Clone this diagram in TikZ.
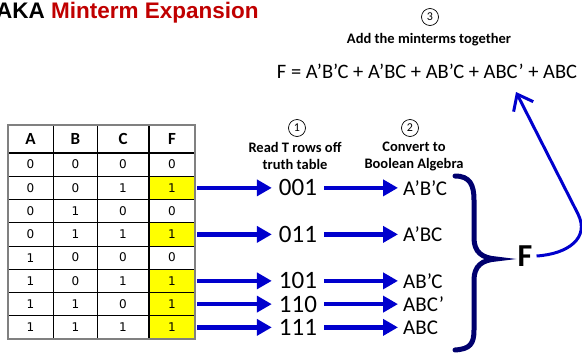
\documentclass[tikz,border=0pt]{standalone}
\usepackage{fontspec}
\setmainfont{Carlito}
\newfontfamily\arialfont{Liberation Sans}
\newfontfamily\verdfont{DejaVu Sans}
\usetikzlibrary{arrows.meta}
\definecolor{arrowblue}{RGB}{0,0,205}
\definecolor{bracenavy}{RGB}{0,0,110}
\definecolor{titlered}{RGB}{192,0,0}
\definecolor{cellyellow}{RGB}{255,255,0}
\definecolor{gridgrey}{RGB}{128,128,128}
\begin{document}
\begin{tikzpicture}[x=1pt,y=-1pt,
 hdr/.style={font=\fontsize{17}{17}\selectfont\bfseries, inner sep=0},
 cell/.style={font=\verdfont\fontsize{12}{12}\selectfont, inner sep=0},
 fcell/.style={font=\verdfont\fontsize{12}{12}\selectfont, inner sep=0, minimum width=46pt, minimum height=23.25pt},
 bin/.style={font=\fontsize{25}{25}\selectfont, inner sep=2pt},
 term/.style={font=\fontsize{21}{21}\selectfont, anchor=west, inner sep=3pt},
 lbl/.style={font=\fontsize{14.5}{17}\selectfont\bfseries, align=center, inner sep=0},
 num/.style={circle, draw, line width=0.7pt, minimum size=17pt, inner sep=0, font=\fontsize{12}{12}\selectfont},
 bigarrow/.style={draw=arrowblue, line width=4.5pt, -{Triangle[length=15pt,width=16pt]}, shorten <=2pt},
]
\useasboundingbox (0,0) rectangle (582,354);

% title
\node[anchor=base west, inner sep=0, font=\arialfont\bfseries\fontsize{22.5}{22.5}\selectfont] (title) at (-4,18.5) {AKA \textcolor{titlered}{Minterm Expansion}};

% table header
\node[hdr] (hA) at (30.5,139) {A};
\node[hdr] (hB) at (75.5,139) {B};
\node[hdr] (hC) at (123,139) {C};
\node[hdr] (hF) at (172,139) {F};

% table body
\foreach \r/\a/\b/\c/\f in {1/0/0/0/0,2/0/0/1/1,3/0/1/0/0,4/0/1/1/1,5/1/0/0/0,6/1/0/1/1,7/1/1/0/1,8/1/1/1/1}{
  \pgfmathsetmacro{\yc}{153+23.25*(\r-0.5)}
  \node[cell] (a\r) at (30.5,\yc) {\a};
  \node[cell] (b\r) at (75.5,\yc) {\b};
  \node[cell] (c\r) at (123,\yc) {\c};
  \ifnum\f=1
    \node[fcell, fill=cellyellow] (f\r) at (172,\yc) {\f};
  \else
    \node[fcell] (f\r) at (172,\yc) {\f};
  \fi
}

% grid
\foreach \r in {1,...,7}{
  \draw[line width=0.8pt] (8,{153+23.25*\r}) -- (195,{153+23.25*\r});
}
\draw[line width=0.8pt] (53,125) -- (53,339);
\draw[line width=0.8pt] (97.5,125) -- (97.5,339);
\draw[line width=2pt] (8,153) -- (195,153);
\draw[line width=2.4pt] (149,125) -- (149,339);
\draw[gridgrey, line width=1.4pt] (8,125) rectangle (195,339);

% step labels
\node[num] (n1) at (297,128) {1};
\node[num] (n2) at (410,128) {2};
\node[num] (n3) at (430,17) {3};
\node[lbl] (l1) at (295,156) {Read T rows off\\truth table};
\node[lbl] (l2) at (414,156) {Convert to\\Boolean Algebra};
\node[lbl] (l3) at (429,40) {Add the minterms together};

% equation
\node[font=\fontsize{20.5}{20.5}\selectfont, anchor=base, inner sep=0] (eq) at (427,78) {F = A’B’C + A’BC + AB’C + ABC’ + ABC};

% binary and terms
\foreach \r/\bn/\tm in {2/001/A’B’C, 4/011/A’BC, 6/101/AB’C, 7/110/ABC’, 8/111/ABC}{
  \pgfmathsetmacro{\yc}{153+23.25*(\r-0.5)}
  \node[bin] (bin\r) at (298,\yc) {\bn};
  \node[term] (tm\r) at (400,\yc) {\tm};
  \draw[bigarrow, shorten >=5pt] (f\r.east) -- (bin\r.west);
  \draw[bigarrow, shorten <=5pt, shorten >=2pt] (bin\r.east) -- (tm\r.west);
}

% brace
\draw[bracenavy, line width=5pt, line cap=round]
  (455,176) .. controls (470,176) and (474,185) .. (474,200) -- (474,238)
  .. controls (474,252) and (482,258) .. (496,259)
  .. controls (482,260) and (474,266) .. (474,280) -- (474,330)
  .. controls (474,344) and (470,349) .. (455,350);

% F and return arrow
\node[font=\fontsize{32}{32}\selectfont\bfseries, inner sep=4pt] (bigF) at (525,256) {F};
\coordinate (eqarrow) at (516,92);
\draw[arrowblue, line width=3pt, -{Straight Barb[length=14pt,width=22pt]}]
  (bigF.east) .. controls (568,254) and (590,238) .. (578,214) -- (eqarrow);
\end{tikzpicture}
\end{document}
